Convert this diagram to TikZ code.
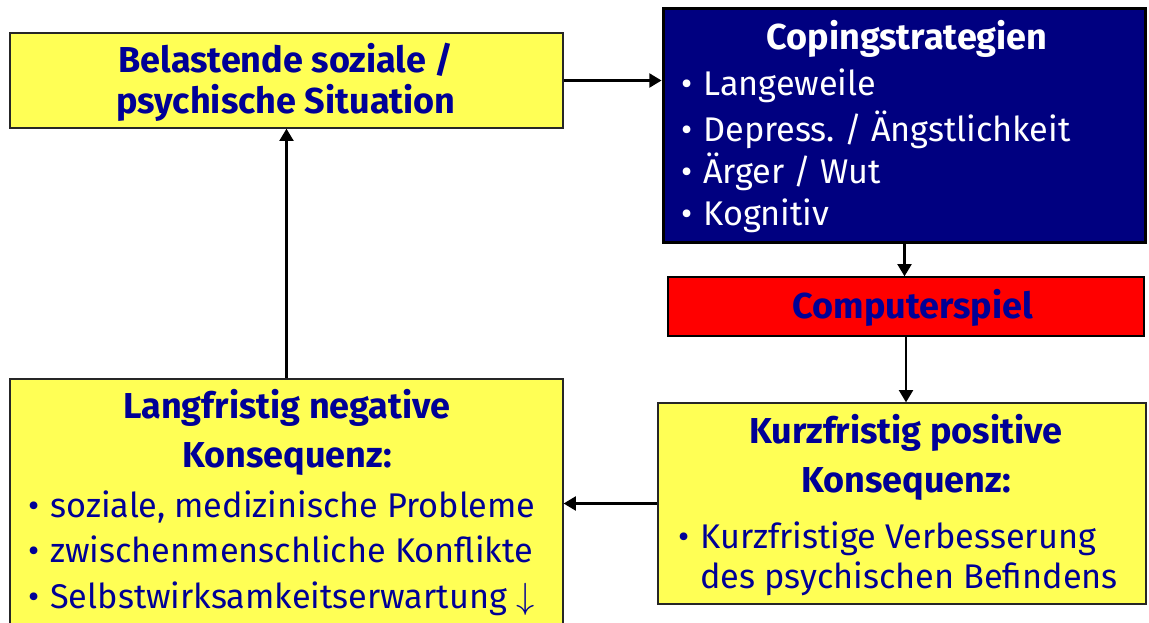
\documentclass[tikz,border=0pt]{standalone}
\usepackage{fontspec}
\setmainfont{Fira Sans}
\usetikzlibrary{arrows.meta}
\frenchspacing

\definecolor{boxyellow}{RGB}{255,255,85}
\definecolor{copeblue}{RGB}{0,0,128}
\definecolor{textblue}{RGB}{0,0,150}
\definecolor{spielred}{RGB}{255,0,0}

\newcommand{\bul}{\makebox[12.5pt][l]{\textbullet}}

\tikzset{
  ybox/.style={draw=black!85, line width=0.8pt, fill=boxyellow, inner sep=0pt},
  title/.style={anchor=base, inner sep=0pt, text=textblue,
    font=\fontsize{20.5}{24}\selectfont\bfseries},
  item/.style={anchor=base west, inner sep=0pt, text=textblue,
    font=\fontsize{19.5}{24}\selectfont},
  conn/.style={-{Triangle[length=7pt,width=8pt]}, line width=1.3pt}
}

\begin{document}
\begin{tikzpicture}[x=0.02cm,y=-0.02cm]
\useasboundingbox (0,0) rectangle (1149,622);
\clip (0,0) rectangle (1149,622);

% boxes
\node[ybox, minimum width=11.06cm, minimum height=1.9cm] (sit) at (286.5,80.5) {};
\node[draw=black, line width=1.7pt, fill=copeblue, inner sep=0pt,
  minimum width=9.66cm, minimum height=4.7cm] (cope) at (904.5,125.5) {};
\node[draw=black, line width=0.8pt, fill=spielred, inner sep=0pt,
  minimum width=9.52cm, minimum height=1.18cm] (spiel) at (906,306.5) {};
\node[ybox, minimum width=9.76cm, minimum height=4.02cm] (kurz) at (902,503.5) {};
\node[ybox, minimum width=11.06cm, minimum height=5.22cm] (lang) at (286.5,509.5) {};

% texts
\node[title] (sit1) at (286,72) {Belastende soziale /};
\node[title] (sit2) at (286,113) {psychische Situation};

\node[title, text=white] (cope0) at (907,50) {Copingstrategien};
\node[item, text=white] (cope1) at (681,95) {\bul Langeweile};
\node[item, text=white] (cope2) at (681,141) {\bul Depress. / Ängstlichkeit};
\node[item, text=white] (cope3) at (681,183) {\bul Ärger / Wut};
\node[item, text=white] (cope4) at (681,225) {\bul Kognitiv};

\node[title] (spiel1) at (913,318) {Computerspiel};

\node[title] (kurz1) at (906,443) {Kurzfristig positive};
\node[title] (kurz2) at (906,492) {Konsequenz:};
\node[item] (kurz3) at (678,548) {\bul Kurzfristige Verbesserung};
\node[item] (kurz4) at (700,588) {des psychischen Befindens};

\node[title] (lang1) at (287,418) {Langfristig negative};
\node[title] (lang2) at (287,467) {Konsequenz:};
\node[item] (lang3) at (28,517) {\bul soziale, medizinische Probleme};
\node[item] (lang4) at (28,562) {\bul zwischenmenschliche Konflikte};
\node[item] (lang5) at (28,608) {\bul Selbstwirksamkeitserwartung $\downarrow$};

% arrows
\draw[conn] (sit.east) -- (sit.east -| cope.west);
\draw[conn] (cope.south) -- (cope.south |- spiel.north);
\draw[conn] (spiel.south) -- (spiel.south |- kurz.north);
\draw[conn] (kurz.west) -- (kurz.west -| lang.east);
\draw[conn] (lang.north) -- (sit.south);

\end{tikzpicture}
\end{document}
